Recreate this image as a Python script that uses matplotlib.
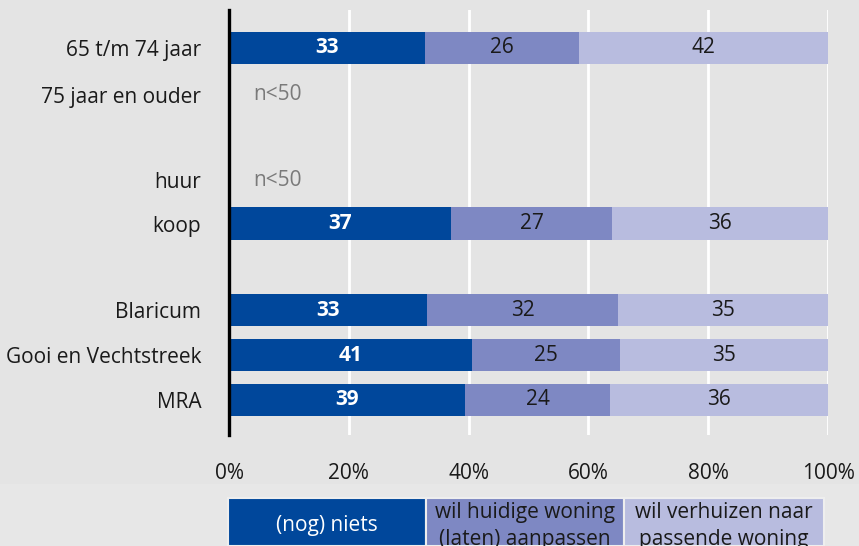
import numpy as np
import matplotlib.pyplot as plt
from matplotlib.patches import Rectangle

plt.rcParams['font.family'] = ['Open Sans', 'DejaVu Sans']

categories = ["65 t/m 74 jaar", "75 jaar en ouder", "huur", "koop",
              "Blaricum", "Gooi en Vechtstreek", "MRA"]
ypos = [0, 1.05, 2.95, 3.92, 5.85, 6.85, 7.85]
niets = [33, None, None, 37, 33, 41, 39]
aanpassen = [26, None, None, 27, 32, 25, 24]
verhuizen = [42, None, None, 36, 35, 35, 36]
series_names = ["(nog) niets", "wil huidige woning\n(laten) aanpassen",
                "wil verhuizen naar\npassende woning"]
colors = ["#00479b", "#7e88c3", "#b8bcdf"]
txt_colors = ["white", "#1a1a1a", "#1a1a1a"]
xticks = [0, 20, 40, 60, 80, 100]
FS = 15

fig = plt.figure(figsize=(8.59, 5.46), dpi=100, facecolor="#e4e4e4")
fig.patches.append(Rectangle((0, 0), 1, 1 - 484 / 546, transform=fig.transFigure,
                             facecolor="#e7e7e7", edgecolor="none", zorder=0))
ax = fig.add_axes([229 / 859, 1 - 435 / 546, 599 / 859, 425 / 546])
ax.set_facecolor("#e4e4e4")

for i, y in enumerate(ypos):
    vals = [niets[i], aanpassen[i], verhuizen[i]]
    if vals[0] is None:
        ax.text(4.1, y, "n<50", va="center", ha="left", color="#7a7a7a", fontsize=FS)
        continue
    tot = sum(vals)
    left = 0
    for j, v in enumerate(vals):
        w = v / tot * 100
        ax.barh(y, w, left=left, height=0.72, color=colors[j], zorder=3)
        ax.text(left + w / 2, y, str(v), ha="center", va="center", fontsize=FS,
                color=txt_colors[j], fontweight="bold" if j == 0 else "normal", zorder=4)
        left += w

ax.set_xlim(0, 100)
ax.set_ylim(7.85 + 0.78, -0.84)
ax.set_yticks(ypos)
ax.set_yticklabels(categories, fontsize=FS, color="#1a1a1a")
ax.set_xticks(xticks)
ax.set_xticklabels([f"{t}%" for t in xticks], fontsize=FS, color="#1a1a1a")
ax.tick_params(axis="both", length=0)
ax.tick_params(axis="y", pad=20)
ax.tick_params(axis="x", pad=20)
for t in xticks[1:]:
    ax.axvline(t, color="white", lw=2, zorder=1)
for s in ["top", "right", "bottom"]:
    ax.spines[s].set_visible(False)
ax.spines["left"].set_linewidth(2.4)
ax.spines["left"].set_color("black")
ax.spines["left"].set_zorder(5)

# legend boxes
bx = [228, 426, 624, 824]
for j in range(3):
    x0, x1 = bx[j] / 859, bx[j + 1] / 859
    fig.patches.append(Rectangle((x0, 0), x1 - x0, 48 / 546, transform=fig.transFigure,
                                 facecolor=colors[j], edgecolor="#eeeeee", lw=1.5, zorder=1))
    if j == 0:
        fig.text((x0 + x1) / 2, 1 - 526 / 546, series_names[j], ha="center", va="center",
                 fontsize=FS, color="white")
    else:
        fig.text((x0 + x1) / 2, 1 - 502 / 546, series_names[j], ha="center", va="top",
                 fontsize=FS, color="#1a1a1a", linespacing=1.35)

fig.savefig("out.png", dpi=100, facecolor=fig.get_facecolor())
